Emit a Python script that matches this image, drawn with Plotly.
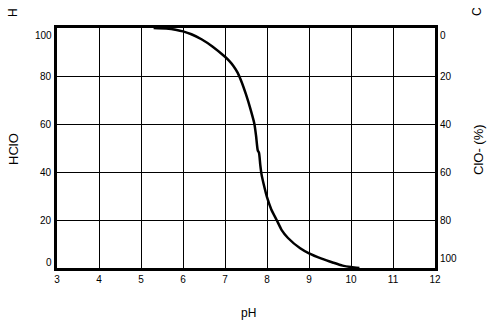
import plotly.graph_objects as go

# Data
ph = [5.3, 5.6, 5.85, 6.0, 6.2, 6.44, 6.7, 7.0, 7.1, 7.2, 7.3, 7.4, 7.5, 7.6, 7.7, 7.74, 7.78, 7.81, 7.84, 7.87,
      7.92, 8.0, 8.1, 8.23, 8.35, 8.5, 8.79, 9.0, 9.3, 9.58, 9.8, 10.0, 10.2]
hclo = [100, 99.8, 99.2, 98.6, 97.4, 95.3, 92.3, 88, 86.3, 84.2, 81.4, 77.3, 72.3, 66.6, 60, 55, 49, 48, 43, 39,
        35, 29.5, 24.5, 20, 15.8, 12.5, 8.2, 6.1, 3.9, 2.2, 1.0, 0.4, 0]

x_ticks = [3, 4, 5, 6, 7, 8, 9, 10, 11, 12]
left_ticks = [0, 20, 40, 60, 80, 100]
right_ticks = [0, 20, 40, 60, 80, 100]

FONT = "Liberation Sans, Arial, sans-serif"

fig = go.Figure()
fig.add_trace(go.Scatter(x=ph, y=hclo, mode="lines",
                         line=dict(color="black", width=2.5, shape="spline", smoothing=0.6),
                         showlegend=False, hoverinfo="skip"))
fig.add_trace(go.Scatter(x=[3, 12], y=[0, 100], yaxis="y2", mode="lines", line=dict(width=0),
                         opacity=0, showlegend=False, hoverinfo="skip"))


def end_shift(v, lo_shift, hi_shift):
    if v == 0:
        return lo_shift
    if v == 100:
        return hi_shift
    return 0


annotations = []
for v in left_ticks:
    annotations.append(dict(text=str(v), x=-0.008, y=v, xref="paper", yref="y", showarrow=False,
                            xanchor="right", yanchor="middle", yshift=end_shift(v, 6, -7),
                            font=dict(size=10)))
for v in right_ticks:
    annotations.append(dict(text=str(v), x=1.008, y=v, xref="paper", yref="y2", showarrow=False,
                            xanchor="left", yanchor="middle", yshift=end_shift(v, -7, 10),
                            font=dict(size=10)))

annotations += [
    dict(text="pH", x=(248 - 57) / 378, y=(268 - 313) / 240, xref="paper", yref="paper", showarrow=False,
         xanchor="center", yanchor="middle", font=dict(size=12)),
    dict(text="HClO", x=(13 - 57) / 378, y=(268 - 149) / 240, xref="paper", yref="paper", showarrow=False,
         xanchor="center", yanchor="middle", textangle=-90, font=dict(size=13)),
    dict(text="H", x=(13 - 57) / 378, y=(268 - 13) / 240, xref="paper", yref="paper", showarrow=False,
         xanchor="center", yanchor="middle", textangle=-90, font=dict(size=12)),
    dict(text="ClO- (%)", x=(478 - 57) / 378, y=(268 - 150) / 240, xref="paper", yref="paper", showarrow=False,
         xanchor="center", yanchor="middle", textangle=-90, font=dict(size=13)),
    dict(text="C", x=(477 - 57) / 378, y=(268 - 12) / 240, xref="paper", yref="paper", showarrow=False,
         xanchor="center", yanchor="middle", textangle=-90, font=dict(size=12)),
]

fig.update_layout(
    width=493, height=320,
    margin=dict(l=57, r=58, t=28, b=52),
    paper_bgcolor="white", plot_bgcolor="white",
    font=dict(family=FONT, size=10, color="black"),
    xaxis=dict(range=[3, 12], tickvals=x_ticks, showgrid=True, gridcolor="black", gridwidth=1,
               showline=True, linecolor="black", linewidth=3, mirror=True, zeroline=False,
               ticks="", tickfont=dict(size=10)),
    yaxis=dict(range=[0, 100], tickvals=left_ticks, showticklabels=False, showgrid=True,
               gridcolor="black", gridwidth=1,
               showline=True, linecolor="black", linewidth=3, mirror=True, zeroline=False, ticks=""),
    yaxis2=dict(range=[100, 0], tickvals=right_ticks, overlaying="y", side="right", showgrid=False,
                showticklabels=False, showline=False, zeroline=False, ticks=""),
    annotations=annotations,
)

fig.write_html("out.html", config={"displayModeBar": False},
               post_script="document.body.style.margin='0';")
